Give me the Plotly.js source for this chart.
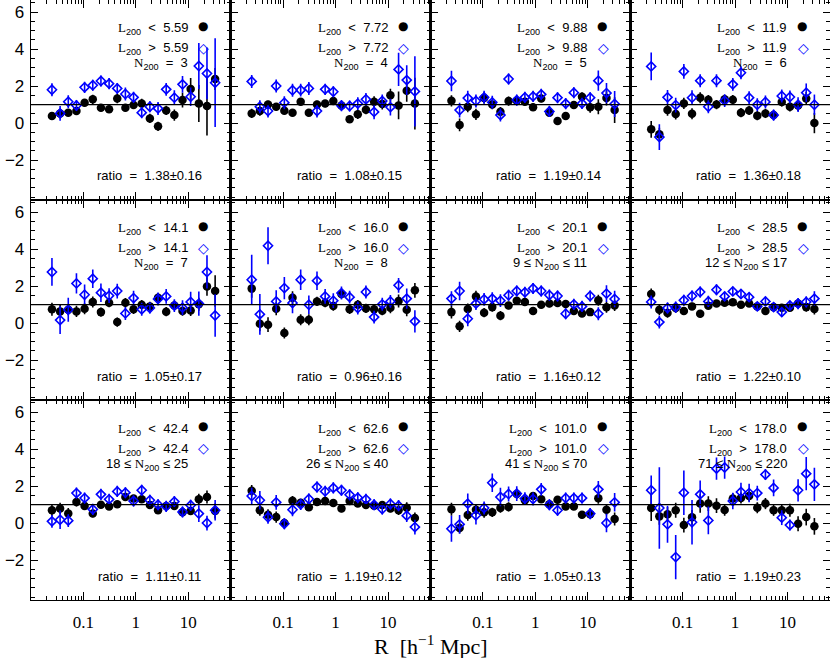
<!DOCTYPE html>
<html><head><meta charset="utf-8">
<script src="https://cdn.plot.ly/plotly-3.0.1.min.js"></script>
<style>html,body{margin:0;padding:0;overflow:hidden;background:#fff}#chart{width:830px;height:658px}</style>
</head><body><div id="chart"></div>
<script>
// Radial bins, R [h^-1 Mpc]
const rBins = [0.0251,0.0359,0.0514,0.0736,0.1053,0.1507,0.2157,0.3086,0.4416,0.6318,0.904,1.294,1.851,2.649,3.790,5.423,7.760,11.10,15.89,22.73,32.53];

// Panel labels
const lumCut = ['5.59','7.72','9.88','11.9','14.1','16.0','20.1','28.5','42.4','62.6','101.0','178.0'];
const richLabel = ['N<sub>200</sub>\u00a0 =\u00a0 3','N<sub>200</sub>\u00a0 =\u00a0 4','N<sub>200</sub>\u00a0 =\u00a0 5','N<sub>200</sub>\u00a0 =\u00a0 6',
  'N<sub>200</sub>\u00a0 =\u00a0 7','N<sub>200</sub>\u00a0 =\u00a0 8','9 ≤ N<sub>200</sub> ≤ 11','12 ≤ N<sub>200</sub> ≤ 17',
  '18 ≤ N<sub>200</sub> ≤ 25','26 ≤ N<sub>200</sub> ≤ 40','41 ≤ N<sub>200</sub> ≤ 70','71 ≤ N<sub>200</sub> ≤ 220'];
const ratioLabel = ['1.38±0.16','1.08±0.15','1.19±0.14','1.36±0.18','1.05±0.17','0.96±0.16',
  '1.16±0.12','1.22±0.10','1.11±0.11','1.19±0.12','1.05±0.13','1.19±0.23'];

// Faint (L200 < cut): black filled circles
const faintY = [
 [0.38,0.52,0.56,0.65,1.1,1.28,0.83,0.74,1.32,0.83,0.97,1.06,0.25,-0.18,0.68,0.43,1.24,1.84,1.06,0.92,2.38],
 [0.52,0.65,1.0,0.88,0.67,0.56,1.15,0.56,1.0,1.05,1.19,0.95,0.2,0.47,0.72,1.15,1.03,1.5,0.95,1.75,1.05],
 [1.2,-0.1,0.88,0.47,1.35,1.0,0.61,1.19,1.2,1.15,0.85,1.32,0.56,0.11,0.38,0.97,1.42,0.85,0.88,1.35,0.7],
 [-0.34,-0.6,0.7,0.49,1.06,0.5,1.37,1.26,1.0,1.28,1.26,0.56,0.68,0.4,0.52,0.43,1.14,0.88,0.95,1.33,0.0],
 [0.74,0.63,0.72,0.63,0.77,1.14,0.59,1.1,0.05,1.1,0.74,0.99,0.9,1.37,0.61,0.95,0.65,0.68,1.01,1.98,1.73],
 [1.86,-0.04,-0.09,0.77,-0.54,1.37,0.18,0.18,1.17,1.1,0.92,1.57,0.74,0.99,0.79,0.74,0.67,0.83,1.19,0.72,1.77],
 [0.59,-0.18,0.76,1.44,0.56,0.86,0.4,0.95,1.21,1.14,0.65,0.99,1.05,1.08,1.03,0.65,0.52,0.59,1.23,0.85,0.95],
 [1.57,0.72,0.54,0.81,0.65,0.9,0.5,0.94,1.05,1.1,1.12,0.99,1.05,0.9,0.65,0.86,0.83,0.83,1.05,0.86,0.76],
 [0.69,0.79,0.51,1.14,0.92,0.51,0.99,0.9,1.01,1.41,1.32,1.28,0.97,0.69,0.92,0.92,0.58,0.65,1.28,1.41,0.65],
 [1.75,0.69,0.45,0.32,0.0,1.21,1.1,0.85,1.14,1.19,1.08,0.78,1.19,1.06,0.97,0.94,0.97,0.78,0.69,0.83,0.27],
 [0.74,-0.27,0.43,0.72,0.58,0.58,0.81,0.87,1.57,1.23,1.46,1.28,1.01,1.26,0.9,0.9,0.45,0.47,1.34,0.72,0.22],
 [0.81,0.36,0.47,0.69,-0.11,0.31,1.05,1.05,0.94,0.7,1.32,1.35,1.46,0.83,1.05,0.69,0.69,0.69,-0.04,0.32,-0.18]
];
const faintErr = [
 [0.2,0.2,0.2,0.2,0.2,0.25,0.2,0.2,0.25,0.2,0.2,0.25,0.25,0.25,0.25,0.3,0.4,0.6,1.0,1.6,0.6],
 [0.25,0.25,0.2,0.2,0.2,0.2,0.2,0.2,0.2,0.2,0.2,0.2,0.2,0.25,0.25,0.3,0.3,0.35,0.75,0.6,1.4],
 [0.3,0.35,0.3,0.3,0.3,0.25,0.25,0.25,0.2,0.2,0.2,0.2,0.2,0.2,0.2,0.2,0.25,0.3,0.4,0.4,0.7],
 [0.45,0.35,0.3,0.3,0.3,0.3,0.3,0.25,0.25,0.25,0.25,0.25,0.25,0.25,0.25,0.25,0.25,0.25,0.3,0.35,0.55],
 [0.35,0.35,0.3,0.3,0.3,0.3,0.25,0.25,0.25,0.25,0.25,0.25,0.25,0.25,0.25,0.25,0.25,0.3,0.35,0.5,0.85],
 [0.5,0.4,0.4,0.35,0.3,0.35,0.3,0.3,0.25,0.25,0.25,0.25,0.25,0.25,0.25,0.25,0.25,0.3,0.35,0.35,0.4],
 [0.35,0.3,0.3,0.3,0.25,0.25,0.25,0.2,0.2,0.2,0.2,0.2,0.2,0.2,0.2,0.2,0.2,0.2,0.3,0.3,0.3],
 [0.3,0.3,0.25,0.25,0.2,0.2,0.2,0.2,0.15,0.15,0.15,0.15,0.15,0.15,0.15,0.15,0.15,0.15,0.2,0.25,0.3],
 [0.3,0.3,0.3,0.25,0.2,0.2,0.2,0.2,0.2,0.2,0.2,0.2,0.2,0.2,0.2,0.2,0.2,0.2,0.3,0.35,0.4],
 [0.3,0.3,0.3,0.3,0.25,0.25,0.2,0.2,0.2,0.2,0.2,0.2,0.2,0.2,0.2,0.2,0.2,0.2,0.25,0.3,0.3],
 [0.35,0.3,0.3,0.3,0.3,0.25,0.25,0.25,0.25,0.2,0.2,0.2,0.2,0.2,0.2,0.2,0.2,0.2,0.3,0.3,0.35],
 [0.7,0.45,0.4,0.4,0.4,0.4,0.5,0.4,0.4,0.3,0.3,0.3,0.3,0.3,0.3,0.3,0.3,0.35,0.4,0.45,0.45]
];

// Bright (L200 > cut): blue open diamonds
const brightY = [
 [1.8,0.52,1.15,0.95,1.93,2.04,2.27,2.13,1.87,1.57,1.39,0.56,0.88,0.79,1.82,1.37,2.09,1.42,3.08,2.68,2.18],
 [2.25,0.88,0.65,2.0,1.1,1.77,1.78,1.87,0.65,1.82,1.69,0.94,0.92,1.05,1.28,0.6,1.19,0.86,2.9,2.32,1.71],
 [2.27,0.7,1.35,1.19,1.39,1.12,0.43,2.38,1.24,1.39,1.44,1.55,0.63,1.37,1.05,1.64,1.06,1.37,2.29,1.62,1.03],
 [3.06,-0.76,1.39,0.97,2.79,1.37,2.29,0.88,2.29,1.21,2.09,2.72,1.37,0.99,1.14,0.43,1.46,1.41,0.99,1.64,0.99],
 [2.76,0.16,0.72,2.14,1.53,2.4,1.64,1.48,1.73,0.52,1.35,0.74,0.81,1.3,1.44,0.94,0.83,1.14,1.05,2.76,0.41],
 [2.34,0.47,4.18,1.17,1.89,1.08,2.34,0.99,2.29,1.44,1.21,1.62,1.4,0.81,1.68,0.32,1.01,1.17,2.04,1.32,0.09],
 [1.32,1.73,0.23,1.05,1.28,1.32,1.21,1.5,1.73,1.66,1.87,1.73,1.51,1.46,0.5,1.01,0.9,1.46,0.5,1.59,1.3],
 [1.14,0.05,0.81,0.86,1.23,1.46,1.68,1.17,1.8,1.44,1.71,1.57,1.4,0.9,1.17,0.86,0.59,0.95,1.05,1.14,1.32],
 [0.09,0.18,0.13,1.62,1.35,0.74,1.55,1.28,1.71,1.64,1.19,1.77,1.23,0.99,0.9,1.16,0.6,0.96,0.51,0.0,0.69],
 [1.46,1.23,0.31,1.12,-0.04,0.72,1.01,1.3,1.95,1.71,1.9,1.77,1.53,1.37,1.28,0.99,0.76,1.03,0.94,0.4,-0.22],
 [-0.31,-0.07,1.05,0.42,0.81,2.18,1.41,1.57,1.59,1.32,1.3,1.82,0.99,0.69,1.35,1.35,1.35,0.51,1.82,0.0,1.12],
 [1.77,0.81,-0.07,-1.84,1.64,0.04,1.55,0.14,2.94,3.0,1.19,1.68,1.62,1.62,2.62,1.9,0.29,-0.11,1.77,2.67,2.09]
];
const brightErr = [
 [0.35,0.4,0.35,0.3,0.3,0.3,0.3,0.3,0.3,0.35,0.3,0.3,0.3,0.35,0.35,0.4,0.45,0.5,1.25,1.4,2.4],
 [0.35,0.35,0.35,0.35,0.35,0.35,0.35,0.35,0.35,0.3,0.3,0.3,0.3,0.35,0.35,0.4,0.35,0.45,0.9,0.8,1.9],
 [0.55,0.4,0.4,0.35,0.35,0.35,0.35,0.3,0.3,0.3,0.3,0.3,0.3,0.3,0.3,0.3,0.3,0.3,0.55,0.55,0.7],
 [0.75,0.7,0.4,0.4,0.4,0.4,0.35,0.35,0.35,0.35,0.35,0.35,0.35,0.35,0.35,0.3,0.35,0.35,0.4,0.5,0.55],
 [0.75,0.75,0.65,0.55,0.55,0.5,0.5,0.4,0.4,0.35,0.4,0.35,0.3,0.35,0.4,0.35,0.4,0.55,0.65,0.9,1.15],
 [1.35,1.1,1.0,0.6,0.6,0.55,0.55,0.5,0.5,0.4,0.4,0.35,0.35,0.35,0.35,0.35,0.35,0.35,0.4,0.55,0.6],
 [0.4,0.5,0.4,0.35,0.35,0.35,0.35,0.3,0.3,0.3,0.3,0.3,0.3,0.3,0.3,0.3,0.3,0.3,0.35,0.45,0.45],
 [0.35,0.35,0.3,0.3,0.3,0.3,0.3,0.3,0.3,0.25,0.25,0.25,0.25,0.25,0.25,0.25,0.25,0.25,0.3,0.3,0.4],
 [0.35,0.5,0.35,0.3,0.3,0.3,0.3,0.3,0.3,0.3,0.3,0.3,0.3,0.3,0.3,0.3,0.3,0.3,0.45,0.4,0.55],
 [0.45,0.5,0.35,0.4,0.3,0.35,0.3,0.3,0.3,0.3,0.3,0.3,0.3,0.3,0.3,0.3,0.3,0.3,0.3,0.35,0.4],
 [0.7,0.5,0.55,0.5,0.35,0.5,0.5,0.4,0.4,0.35,0.35,0.35,0.3,0.3,0.3,0.3,0.3,0.3,0.45,0.5,0.5],
 [0.8,2.2,1.0,1.2,1.2,1.2,0.75,0.75,0.6,0.6,0.45,0.5,0.5,0.4,0.3,0.45,0.4,0.3,0.6,0.9,0.9]
];

const xTickVals = [0.1,1,10];
const xTickText = ['0.1','1','10'];
const yTickVals = [-2,0,2,4,6];
const yTickText = ['−2','0','2','4','6'];
const refLevel = 1;

const BLUE = '#0000ff';
const SANS = 'Liberation Sans, Arial, sans-serif';
const SERIF = 'Liberation Serif, Times New Roman, serif';

const minorX = [];
[0.01,0.1,1,10].forEach(d => { for (let m = 2; m <= 9; m++) minorX.push(d*m); });
const minorY = [];
for (let v = -4; v <= 6.5; v += 0.5) minorY.push(v);

const traces = [], layout = {
  width: 830, height: 658,
  margin: {l: 31, r: 0, t: 0, b: 58},
  paper_bgcolor: '#fff', plot_bgcolor: '#fff',
  showlegend: false,
  font: {family: SANS, color: '#000'},
  shapes: [], annotations: []
};

for (let k = 0; k < 12; k++) {
  const row = Math.floor(k/4), col = k % 4;
  const sfx = k === 0 ? '' : String(k+1);
  const xa = 'x' + sfx, ya = 'y' + sfx;
  layout['xaxis' + sfx] = {
    type: 'log', range: [-2, 1.81], domain: [col*0.25, (col+1)*0.25], anchor: ya,
    showline: true, linecolor: '#000', linewidth: 1.3, mirror: 'allticks',
    ticks: 'inside', ticklen: 8, tickwidth: 1, tickcolor: '#000',
    tickmode: 'array', tickvals: xTickVals, ticktext: xTickText,
    showticklabels: row === 2, tickfont: {family: SERIF, size: 17, color: '#000'},
    ticklabelstandoff: 6,
    minor: {ticks: 'inside', ticklen: 4, tickwidth: 1, tickcolor: '#000', tickmode: 'array', tickvals: minorX, showgrid: false},
    showgrid: false, zeroline: false, fixedrange: true
  };
  layout['yaxis' + sfx] = {
    range: [-4.16, 6.65], domain: [1-(row+1)/3, 1-row/3], anchor: xa,
    showline: true, linecolor: '#000', linewidth: 1.3, mirror: 'allticks',
    ticks: 'inside', ticklen: 7, tickwidth: 1, tickcolor: '#000',
    tickmode: 'array', tickvals: yTickVals, ticktext: yTickText,
    showticklabels: col === 0, tickfont: {family: SANS, size: 17, color: '#000'},
    ticklabelstandoff: 2,
    minor: {ticks: 'inside', ticklen: 4, tickwidth: 1, tickcolor: '#000', tickmode: 'array', tickvals: minorY, showgrid: false},
    showgrid: false, zeroline: false, fixedrange: true
  };
  layout.shapes.push({type: 'line', xref: xa + ' domain', yref: ya, x0: 0, x1: 1, y0: refLevel, y1: refLevel,
    line: {color: '#000', width: 1.3}});

  traces.push({
    type: 'scatter', mode: 'markers', x: rBins, y: faintY[k], xaxis: xa, yaxis: ya,
    marker: {color: '#000', size: 8.5, symbol: 'circle'},
    error_y: {type: 'data', array: faintErr[k], color: '#000', thickness: 1.6, width: 0},
    hoverinfo: 'skip'
  });
  traces.push({
    type: 'scatter', mode: 'markers', x: rBins, y: brightY[k], xaxis: xa, yaxis: ya,
    marker: {color: BLUE, size: 7, symbol: 'diamond-open', line: {color: BLUE, width: 1.6}},
    error_y: {type: 'data', array: brightErr[k], color: BLUE, thickness: 1.6, width: 0},
    hoverinfo: 'skip'
  });

  const base = {xref: xa + ' domain', yref: ya + ' domain', showarrow: false, font: {family: SANS, size: 13, color: '#000'}};
  const L = '<span style="font-family:Liberation Serif">L</span><sub>200</sub>';
  layout.annotations.push(Object.assign({}, base, {x: 0.795, y: 0.855, xanchor: 'right', yanchor: 'middle',
    text: L + '\u00a0 &lt;\u00a0 ' + lumCut[k]}));
  layout.annotations.push(Object.assign({}, base, {x: 0.795, y: 0.755, xanchor: 'right', yanchor: 'middle',
    text: L + '\u00a0 &gt;\u00a0 ' + lumCut[k]}));
  layout.annotations.push(Object.assign({}, base, {x: 0.795, y: 0.68, xanchor: 'right', yanchor: 'middle',
    text: richLabel[k].replace('N<sub>', '<span style="font-family:Liberation Serif">N</span><sub>')}));
  layout.annotations.push(Object.assign({}, base, {x: 0.86, y: 0.87, xanchor: 'center', yanchor: 'middle',
    text: '●', font: {family: 'DejaVu Sans', size: 12, color: '#000'}}));
  layout.annotations.push(Object.assign({}, base, {x: 0.865, y: 0.762, xanchor: 'center', yanchor: 'middle',
    text: '◇', font: {family: 'DejaVu Sans', size: 14, color: BLUE}}));
  layout.annotations.push(Object.assign({}, base, {x: 0.593, y: 0.12, xanchor: 'center', yanchor: 'middle',
    text: 'ratio  =  ' + ratioLabel[k], font: {family: SANS, size: 13, color: '#000'}}));
}

layout.annotations.push({xref: 'paper', yref: 'paper', x: 0.5, y: -0.075, xanchor: 'center', yanchor: 'middle',
  showarrow: false, text: 'R  [h<sup>−1</sup> Mpc]', font: {family: SERIF, size: 22, color: '#000'}});

Plotly.newPlot('chart', traces, layout, {staticPlot: true, displayModeBar: false});
</script>
</body></html>
